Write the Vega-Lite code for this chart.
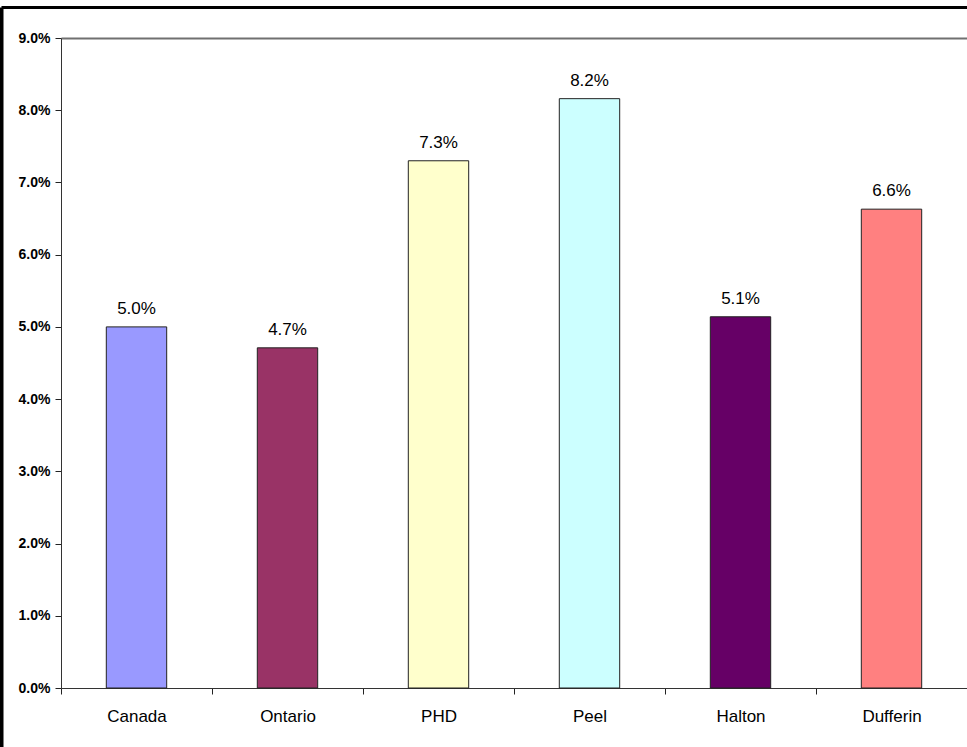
{
  "$schema": "https://vega.github.io/schema/vega-lite/v6.json",
  "width": 966,
  "height": 740,
  "padding": {"left": 1, "top": 7, "right": 0, "bottom": 0},
  "autosize": {"type": "none"},
  "background": "white",
  "config": {
    "view": {"stroke": null},
    "axis": {"grid": false, "labelFont": "Liberation Sans", "labelColor": "black", "tickColor": "#222222", "domainColor": "#333333"},
    "axisY": {"labelFontSize": 14, "labelFontWeight": "bold"},
    "axisLeft": {"labelFontSize": 14, "labelFontWeight": "bold"}
  },
  "data": {
    "values": [
      {"region": "Canada", "rate": 0.0500},
      {"region": "Ontario", "rate": 0.0471},
      {"region": "PHD", "rate": 0.0730},
      {"region": "Peel", "rate": 0.0816},
      {"region": "Halton", "rate": 0.0514},
      {"region": "Dufferin", "rate": 0.0663}
    ]
  },
  "layer": [
    {
      "layer": [
        {
          "mark": {"type": "bar", "stroke": "#222222", "strokeWidth": 1, "width": {"band": 0.4}},
          "encoding": {
            "x": {
              "field": "region", "type": "nominal", "sort": null,
              "scale": {"range": [60, 966], "paddingInner": 0, "paddingOuter": 0},
              "axis": {"orient": "bottom", "offset": -59, "title": null, "labelAngle": 0, "labelFontSize": 17, "labelPadding": 14, "tickSize": 6, "tickBand": "extent", "domainWidth": 1}
            },
            "y": {
              "field": "rate", "type": "quantitative",
              "scale": {"domain": [0, 0.09], "range": [681, 31], "nice": false},
              "axis": {"orient": "left", "offset": -60, "title": null, "values": [0, 0.01, 0.02, 0.03, 0.04, 0.05, 0.06, 0.07, 0.08, 0.09], "format": ".1%", "labelFontSize": 14, "labelFontWeight": "bold", "tickSize": 6, "labelPadding": 5, "domainWidth": 1}
            },
            "color": {
              "field": "region", "type": "nominal", "legend": null,
              "scale": {"domain": ["Canada", "Ontario", "PHD", "Peel", "Halton", "Dufferin"], "range": ["#9999FF", "#993366", "#FFFFCC", "#CCFFFF", "#660066", "#FF8080"]}
            }
          }
        },
        {
          "mark": {"type": "text", "baseline": "alphabetic", "dy": -13, "font": "Liberation Sans", "fontSize": 17, "color": "black"},
          "encoding": {
            "x": {
              "field": "region", "type": "nominal", "sort": null,
              "axis": {"orient": "top", "offset": -31, "title": null, "labels": false, "ticks": false, "domainColor": "#707070", "domainWidth": 2}
            },
            "y": {"field": "rate", "type": "quantitative"},
            "text": {"field": "rate", "type": "quantitative", "format": ".1%"}
          }
        }
      ],
      "resolve": {"axis": {"x": "independent"}}
    },
    {
      "mark": {"type": "point", "opacity": 0},
      "encoding": {
        "x": {"field": "region", "type": "nominal", "sort": null, "axis": {"orient": "top", "offset": 0, "title": null, "labels": false, "ticks": false, "domainColor": "black", "domainWidth": 3}},
        "y": {"field": "rate", "type": "quantitative", "axis": {"orient": "left", "offset": 0, "title": null, "labels": false, "ticks": false, "domainColor": "black", "domainWidth": 4}}
      }
    }
  ],
  "resolve": {"scale": {"x": "independent", "y": "independent"}, "axis": {"x": "independent", "y": "independent"}}
}
